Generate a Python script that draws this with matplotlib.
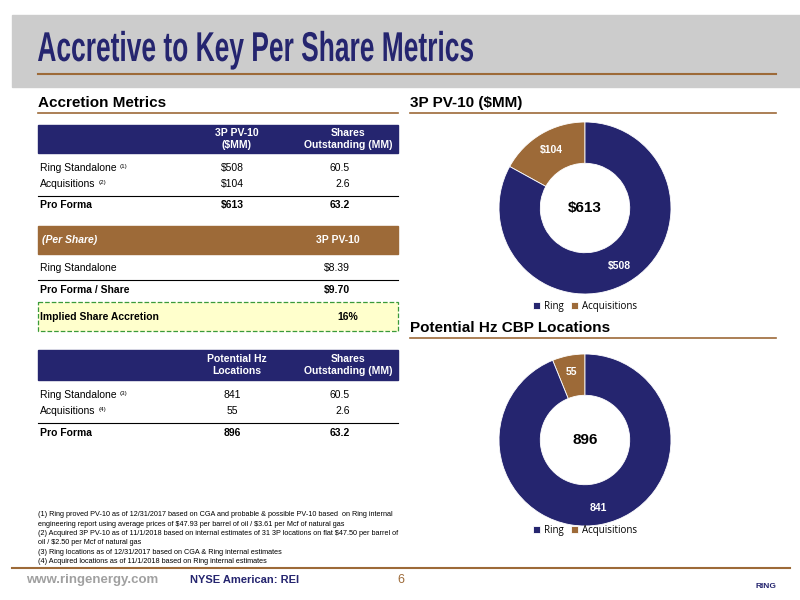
import matplotlib
matplotlib.use("Agg")
import matplotlib.pyplot as plt
import numpy as np
from matplotlib.patches import Rectangle, PathPatch
from matplotlib.textpath import TextPath
from matplotlib.font_manager import FontProperties
from matplotlib.transforms import Affine2D

NAVY = "#25256f"
BROWN = "#9d6a38"

title = "Accretive to Key Per Share Metrics"
pv_labels = ["Ring", "Acquisitions"]
pv_values = [508, 104]
pv_total = "$613"
loc_values = [841, 55]
loc_total = "896"

t1_rows = [("Ring Standalone", "(1)", "$508", "60.5"),
           ("Acquisitions", "(2)", "$104", "2.6")]
t1_total = ("Pro Forma", "$613", "63.2")
ps_rows = [("Ring Standalone", "$8.39", False), ("Pro Forma / Share", "$9.70", True)]
accretion = "16%"
t2_rows = [("Ring Standalone", "(3)", "841", "60.5"),
           ("Acquisitions", "(4)", "55", "2.6")]
t2_total = ("Pro Forma", "896", "63.2")
footnotes = [
    "(1) Ring proved PV-10 as of 12/31/2017 based on CGA and probable & possible PV-10 based  on Ring internal",
    "engineering report using average prices of \\$47.93 per barrel of oil / \\$3.61 per Mcf of natural gas",
    "(2) Acquired 3P PV-10 as of 11/1/2018 based on internal estimates of 31 3P locations on flat \\$47.50 per barrel of",
    "oil / \\$2.50 per Mcf of natural gas",
    "(3) Ring locations as of 12/31/2017 based on CGA & Ring internal estimates",
    "(4) Acquired locations as of 11/1/2018 based on Ring internal estimates",
]

fig = plt.figure(figsize=(8, 6), dpi=100)
ax = fig.add_axes([0, 0, 1, 1])
ax.set_xlim(0, 800); ax.set_ylim(600, 0); ax.axis("off")
F = "Liberation Sans"

ax.add_patch(Rectangle((12, 15), 788, 72, color="#cccccc", zorder=0))
tp = TextPath((0, 0), title, size=1, prop=FontProperties(family=F, weight="bold"))
bb = tp.get_extents()
sx = (473 - 38) / bb.width
sy = 30 / 0.72
tr = Affine2D().translate(-bb.x0, 0).scale(sx, -sy).translate(38, 61)
ax.add_patch(PathPatch(tr.transform_path(tp), color=NAVY, lw=0))
ax.plot([38, 776], [74, 74], color=BROWN, lw=1.5)

def section(x, y, w, s):
    ax.text(x, y, s, fontsize=11, fontweight="bold", va="center", family=F)
    ax.plot([x, x + w], [y + 10, y + 10], color=BROWN, lw=1.2)

section(38, 103, 360, "Accretion Metrics")
section(410, 103, 366, "3P PV-10 ($MM)")
section(410, 328, 366, "Potential Hz CBP Locations")

fs = 7.5
def header(y0, y1, h1, h2):
    ax.add_patch(Rectangle((38, y0), 360, y1 - y0, color=NAVY))
    ym = (y0 + y1) / 2
    ax.text(237, ym, h1, color="white", fontsize=fs, fontweight="bold", ha="center", va="center", family=F, linespacing=1.3)
    ax.text(348, ym, h2, color="white", fontsize=fs, fontweight="bold", ha="center", va="center", family=F, linespacing=1.3)

def rows(ys, data, total, ytot, yline):
    for y, (n, sup, v1, v2) in zip(ys, data):
        t = ax.text(40, y, n, fontsize=fs, va="center", family=F)
        ax.annotate(sup, xy=(1, 1), xycoords=t, xytext=(2, -1), textcoords="offset points",
                    fontsize=4.5, va="top", family=F)
        ax.text(232, y, v1, fontsize=fs, va="center", ha="center", family=F)
        ax.text(350, y, v2, fontsize=fs, va="center", ha="right", family=F)
    ax.plot([38, 398], [yline, yline], color="black", lw=0.8)
    ax.text(40, ytot, total[0], fontsize=fs, va="center", fontweight="bold", family=F)
    ax.text(232, ytot, total[1], fontsize=fs, va="center", ha="center", fontweight="bold", family=F)
    ax.text(350, ytot, total[2], fontsize=fs, va="center", ha="right", fontweight="bold", family=F)

header(125, 153, "3P PV-10\n($MM)", "Shares\nOutstanding (MM)")
rows([168, 184], t1_rows, t1_total, 205, 196)

ax.add_patch(Rectangle((38, 226), 360, 28, color=BROWN))
ax.text(42, 240, "(Per Share)", color="white", fontsize=fs, fontweight="bold", style="italic", va="center", family=F)
ax.text(338, 240, "3P PV-10", color="white", fontsize=fs, fontweight="bold", ha="center", va="center", family=F)
for y, (n, v, b) in zip([268, 290], ps_rows):
    ax.text(40, y, n, fontsize=fs, va="center", fontweight="bold" if b else "normal", family=F)
    ax.text(350, y, v, fontsize=fs, va="center", ha="right", fontweight="bold" if b else "normal", family=F)
ax.plot([38, 398], [280, 280], color="black", lw=0.8)
ax.add_patch(Rectangle((38, 302), 360, 29, facecolor="#ffffcc", edgecolor="#3a9a3a", ls="--", lw=0.9))
ax.text(40, 317, "Implied Share Accretion", fontsize=fs, fontweight="bold", va="center", family=F)
ax.text(348, 317, accretion, fontsize=fs, fontweight="bold", va="center", ha="center", family=F)

header(350, 380, "Potential Hz\nLocations", "Shares\nOutstanding (MM)")
rows([395, 411], t2_rows, t2_total, 433, 423)

for i, s in enumerate(footnotes):
    ax.text(38, 515 + i * 9.3, s, fontsize=5.2, va="center", family=F)

ax.plot([12, 790], [568, 568], color=BROWN, lw=1.5)
ax.text(26, 580, "www.ringenergy.com", fontsize=9.5, color="#a0a0a0", fontweight="bold", va="center", family=F)
ax.text(190, 580, "NYSE American: REI", fontsize=8, color=NAVY, fontweight="bold", va="center", family=F)
ax.text(401, 580, "6", fontsize=9, color=BROWN, va="center", ha="center", family=F)
ax.text(766, 586, "RING", fontsize=6, color=NAVY, fontweight="bold", va="center", ha="center", family=F)

def donut(cx, cy, vals, total, lab_r):
    r = 86
    a = fig.add_axes([(cx - r) / 800, 1 - (cy + r) / 600, 2 * r / 800, 2 * r / 600])
    wedges, _ = a.pie(vals[::-1], colors=[BROWN, NAVY], startangle=90, radius=1,
                      wedgeprops=dict(width=0.48, edgecolor="white", linewidth=0.6))
    for w, v in zip(wedges, vals[::-1]):
        ang = np.deg2rad((w.theta1 + w.theta2) / 2)
        s = ("\\$%d" % v) if total.startswith("$") else str(v)
        a.text(lab_r * np.cos(ang), lab_r * np.sin(ang), s, color="white", fontsize=7.5,
               fontweight="bold", ha="center", va="center", family=F)
    a.text(0, 0, total, fontsize=11, fontweight="bold", ha="center", va="center", family=F)
    a.set_xlim(-1, 1); a.set_ylim(-1, 1); a.set_aspect("equal")
    return wedges

w = donut(585, 208, pv_values, pv_total, 0.78)
donut(585, 440, loc_values, loc_total, 0.8)
for y in (306, 530):
    fig.legend([w[1], w[0]], pv_labels, loc="center", bbox_to_anchor=(585 / 800, 1 - y / 600),
               ncol=2, frameon=False, handlelength=0.7, handleheight=0.7,
               columnspacing=0.8, handletextpad=0.4, prop={"family": "Open Sans", "size": 7})

fig.savefig("out.png", dpi=100)
